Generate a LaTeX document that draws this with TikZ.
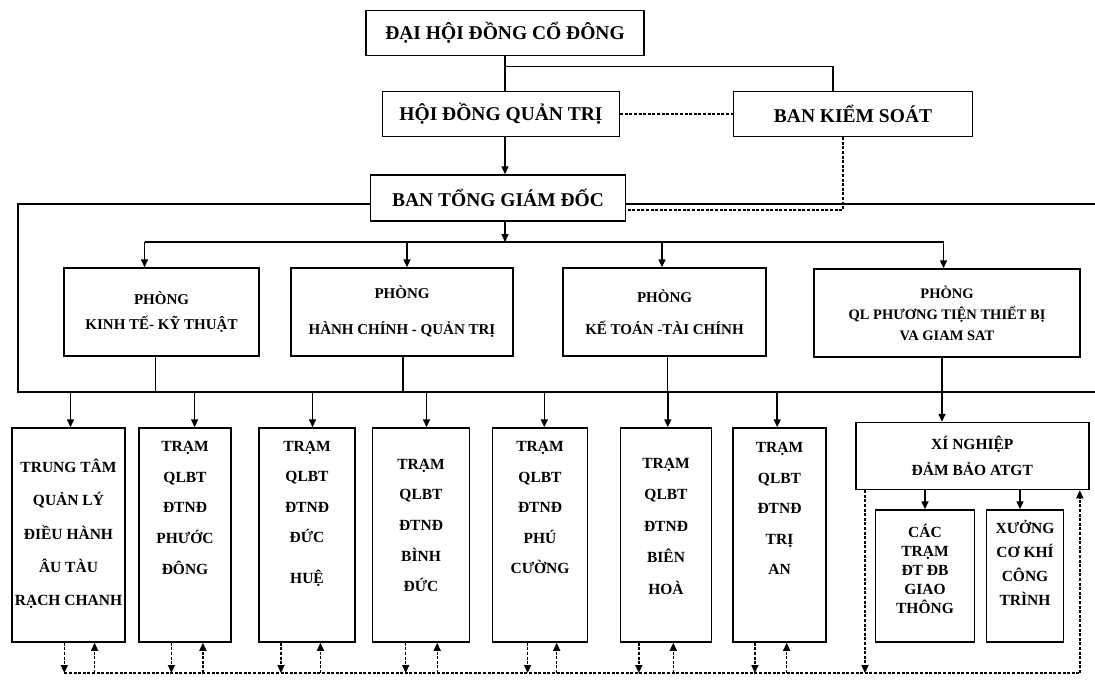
\documentclass[tikz,border=0pt]{standalone}
\usepackage{fontspec}
\setmainfont{Liberation Serif}
\usetikzlibrary{positioning,calc,arrows.meta}

\newcommand{\boldsize}[2]{\bfseries\fontsize{#1}{#2}\selectfont}
\newcommand{\tp}{\rule{0pt}{15pt}}

\tikzset{
    box/.style={draw, line width=1.5pt, inner sep=0pt, align=center, font=\boldsize{19.5}{22}},
    dept/.style={draw, line width=1.5pt, inner sep=0pt, align=center, minimum height=88pt, font=\boldsize{15}{25}},
    stn/.style={draw, line width=1.5pt, inner sep=0pt, minimum height=214pt},
    stntxt/.style={anchor=north, inner sep=0pt, align=center},
    ln/.style={line width=1.5pt},
    dsh/.style={line width=1.4pt, dash pattern=on 3pt off 1.6pt},
}

\begin{document}
\begin{tikzpicture}[x=1pt, y=-1pt, >={Triangle[length=8pt,width=7pt]}]
    \useasboundingbox (0,0) rectangle (1095,686);

    % Top levels
    \node[box, minimum width=278pt, minimum height=45pt] (dhcd) at (505,33) {ĐẠI HỘI ĐỒNG CỔ ĐÔNG};
    \node[box, minimum width=237pt, minimum height=45pt] (hdqt) at (501,114) {HỘI ĐỒNG QUẢN TRỊ};
    \node[box, minimum width=239pt, minimum height=45pt] (bks) at (853,114) {BAN KIỂM SOÁT};
    \node[box, minimum width=255pt, minimum height=46pt] (btgd) at (498,198) {BAN TỔNG GIÁM ĐỐC};

    \coordinate (br) at ($(dhcd.south)+(0,10)$);
    \coordinate (pb) at (0,242);
    \draw[ln] (dhcd.south) -- (dhcd.south |- hdqt.north);
    \draw[ln] (br) -| ([xshift=-20pt]bks.north);
    \draw[ln, ->] (dhcd.south |- hdqt.south) -- (dhcd.south |- btgd.north);
    \draw[dsh] (hdqt.east) -- (bks.west);
    \draw[dsh] ([xshift=-10pt]bks.south) |- ([yshift=-12pt]btgd.east);

    % Frame
    \coordinate (ftl) at (18,204);
    \coordinate (fbl) at (18,392);
    \coordinate (ftr) at (1095,204);
    \coordinate (fbr) at (1095,392);
    \draw[ln] (btgd.west |- ftl) -- (ftl) -- (fbl) -- (fbr);
    \draw[ln] (btgd.east |- ftr) -- (ftr);

    % Departments
    \node[dept, minimum width=195pt] (pkt) at (161.5,312) {PHÒNG\\KINH TẾ- KỸ THUẬT};
    \node[dept, minimum width=222pt, font=\boldsize{15}{36}] (phc) at (402,312) {PHÒNG\\HÀNH CHÍNH - QUẢN TRỊ};
    \node[dept, minimum width=203pt, font=\boldsize{15}{32}] (pktc) at (664.5,312) {PHÒNG\\KẾ TOÁN -TÀI CHÍNH};
    \node[dept, minimum width=266pt, font=\boldsize{14.5}{21}] (pql) at (947,313) {PHÒNG\\QL PHƯƠNG TIỆN THIẾT BỊ\\VA GIAM SAT};

    \draw[ln, ->] (dhcd.south |- btgd.south) -- (dhcd.south |- pb);
    \draw[ln] ($(pkt.north |- pb)+(-17,0)$) -- ($(pql.north |- pb)+(-3.5,0)$);
    \foreach \n/\s in {pkt/-17, phc/5, pktc/-2.5, pql/-3.5}
        \draw[ln, ->] ($(\n.north |- pb)+(\s,0)$) -- ($(\n.north)+(\s,0)$);
    \foreach \n/\s in {pkt/-6, phc/1, pktc/3}
        \draw[ln] ($(\n.south)+(\s,0)$) -- ($(\n.south |- fbl)+(\s,0)$);

    % Stations
    \node[stn, minimum width=113pt] (tt) at (68.5,535) {};
    \node[stn, minimum width=92pt] (pd) at (185,535) {};
    \node[stn, minimum width=96pt] (dh) at (307,535) {};
    \node[stn, minimum width=97pt] (bd) at (421,535) {};
    \node[stn, minimum width=95pt] (pc) at (540,535) {};
    \node[stn, minimum width=91pt] (bh) at (666,535) {};
    \node[stn, minimum width=93pt] (ta) at (779.5,535) {};

    \node[stntxt, font=\boldsize{15.5}{33.3}] (ttt) at ($(tt.north)+(0,30)$) {\tp TRUNG TÂM\\QUẢN LÝ\\ĐIỀU HÀNH\\ÂU TÀU\\RẠCH CHANH};
    \node[stntxt, font=\boldsize{15.5}{30.6}] (pdt) at ($(pd.north)+(0,9.3)$) {\tp TRẠM\\QLBT\\ĐTNĐ\\PHƯỚC\\ĐÔNG};
    \node[stntxt, font=\boldsize{15.5}{30.3}] (dht) at ($(dh.north)+(0,9)$) {\tp TRẠM\\QLBT\\ĐTNĐ\\ĐỨC\\[11pt]HUỆ};
    \node[stntxt, font=\boldsize{15.5}{30.7}] (bdt) at ($(bd.north)+(0,26.7)$) {\tp TRẠM\\QLBT\\ĐTNĐ\\BÌNH\\ĐỨC};
    \node[stntxt, font=\boldsize{15.5}{30.4}] (pct) at ($(pc.north)+(0,9.4)$) {\tp TRẠM\\QLBT\\ĐTNĐ\\PHÚ\\CƯỜNG};
    \node[stntxt, font=\boldsize{15.5}{31.5}] (bht) at ($(bh.north)+(0,26)$) {\tp TRẠM\\QLBT\\ĐTNĐ\\BIÊN\\HOÀ};
    \node[stntxt, font=\boldsize{15.5}{30.6}] (tat) at ($(ta.north)+(0,10)$) {\tp TRẠM\\QLBT\\ĐTNĐ\\TRỊ\\AN};

    \foreach \n/\s in {tt/2, pd/9.6, dh/5.5, bd/5.5, pc/4.3, bh/1.8, ta/-2.3}
        \draw[ln, ->] ($(\n.north |- fbl)+(\s,0)$) -- ($(\n.north)+(\s,0)$);

    % Xi nghiep
    \node[draw, line width=1.5pt, inner sep=0pt, align=center, minimum width=233pt, minimum height=67pt, font=\boldsize{15.5}{25.7}] (xn) at (972.3,456) {XÍ NGHIỆP\\ĐẢM BẢO ATGT};
    \node[draw, line width=1.5pt, inner sep=0pt, minimum width=99pt, minimum height=132pt] (ctr) at (925,576) {};
    \node[draw, line width=1.5pt, inner sep=0pt, minimum width=77pt, minimum height=132pt] (xcc) at (1025,576) {};
    \node[stntxt, font=\boldsize{15.5}{19}] (ctrt) at ($(ctr.north)+(0,12.6)$) {\tp CÁC\\TRẠM\\ĐT ĐB\\GIAO\\THÔNG};
    \node[stntxt, font=\boldsize{15.5}{24}] (xcct) at ($(xcc.north)+(0,9.3)$) {\tp XƯỞNG\\CƠ KHÍ\\CÔNG\\TRÌNH};

    \draw[ln, ->] ($(pql.south)+(-5,0)$) -- ($(pql.south |- xn.north)+(-5,0)$);
    \draw[ln, ->] (xn.south -| ctr.north) -- (ctr.north);
    \draw[ln, ->] ($(xn.south -| xcc.north)+(-5,0)$) -- ($(xcc.north)+(-5,0)$);

    % Dashed links
    \coordinate (db) at (0,673);
    \draw[dsh] ($(tt.south |- db)+(-4.2,0)$) -- ($(xn.south |- db)+(107.5,0)$);
    \foreach \n/\a/\b in {tt/-4.2/26.1, pd/-13.6/17.9, dh/-26/13.4, bd/-15.3/16.2, pc/-12.4/16.7, bh/-27.2/7.3, ta/-24.6/7.2, xn/-107.3/107.5} {
        \draw[dsh, ->] ($(\n.south)+(\a,0)$) -- ($(\n.south |- db)+(\a,0)$);
        \draw[dsh, ->] ($(\n.south |- db)+(\b,0)$) -- ($(\n.south)+(\b,0)$);
    }
\end{tikzpicture}
\end{document}
